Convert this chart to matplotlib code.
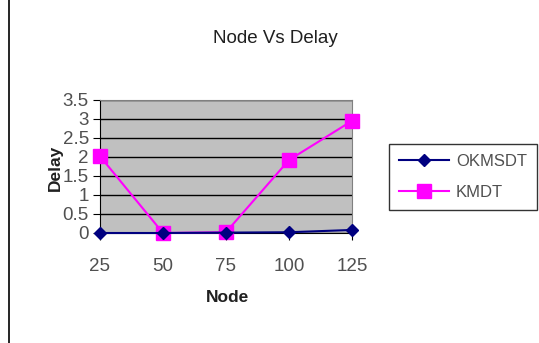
import matplotlib.pyplot as plt
from matplotlib.lines import Line2D

plt.rcParams['font.family'] = ['Liberation Sans', 'DejaVu Sans']

nodes = ['25', '50', '75', '100', '125']
okmsdt = [0.0, 0.0, 0.01, 0.02, 0.08]
kmdt = [2.02, 0.0, 0.02, 1.92, 2.95]

fig = plt.figure(figsize=(5.39, 3.43), dpi=100)
ax = fig.add_axes([0.1855, 0.3207, 0.4675, 0.3878])
ax.set_facecolor('#c0c0c0')

x = range(len(nodes))
ax.plot(x, okmsdt, color='#000080', marker='D', markersize=6, linewidth=1.5,
        label='OKMSDT', zorder=4, clip_on=False)
ax.plot(x, kmdt, color='#ff00ff', marker='s', markersize=10, linewidth=1.5,
        label='KMDT', zorder=3, clip_on=False)

ax.set_xlim(0, len(nodes) - 1)
ax.set_ylim(0, 3.5)
ax.set_xticks(list(x))
ax.set_xticklabels(nodes)
ax.set_yticks([0, 0.5, 1, 1.5, 2, 2.5, 3, 3.5])
ax.set_yticklabels(['0', '0.5', '1', '1.5', '2', '2.5', '3', '3.5'])
ax.yaxis.grid(True, color='black', linewidth=1)
ax.set_axisbelow(True)
ax.tick_params(axis='both', labelsize=13.5, labelcolor='#505050', direction='out',
               length=5, color='black')
ax.tick_params(axis='x', pad=13)
ax.tick_params(axis='y', pad=3)

for s in ['top', 'right']:
    ax.spines[s].set_color('#808080')
ax.spines['left'].set_color('black')
ax.spines['bottom'].set_color('black')

fig.text(0.51, 0.888, 'Node Vs Delay', ha='center', va='center', fontsize=13.5,
         color='#202020')
fig.text(0.423, 0.134, 'Node', ha='center', va='center', fontsize=12.5,
         fontweight='bold', color='#202020')
fig.text(0.103, 0.51, 'Delay', ha='center', va='center', fontsize=12.5,
         fontweight='bold', color='#202020', rotation=90)

leg = fig.legend(loc='center', bbox_to_anchor=(0.859, 0.484), frameon=True,
                 fontsize=12, fancybox=False, edgecolor='black', handlelength=3,
                 handletextpad=0.4, labelspacing=1.0, borderpad=0.6)
for t in leg.get_texts():
    t.set_color('#505050')
leg.get_frame().set_linewidth(1)

fig.add_artist(Line2D([0.017, 0.017], [0, 1], color='black', linewidth=1.2))

fig.savefig('out.png', dpi=100)
